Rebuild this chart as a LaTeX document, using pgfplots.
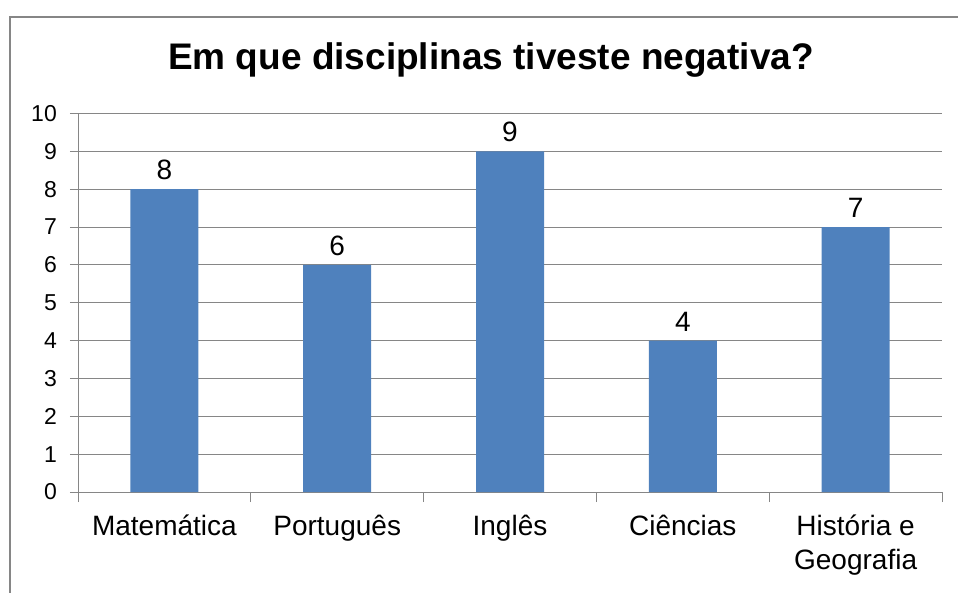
\documentclass[border=0pt]{standalone}
\usepackage{pgfplots}
\pgfplotsset{compat=1.18}
\usepackage{fontspec}
\setmainfont{Liberation Sans}
\definecolor{barblue}{RGB}{79,129,189}
\definecolor{gridgray}{RGB}{134,134,134}
\begin{document}
\begin{tikzpicture}
  \useasboundingbox (0pt,0pt) rectangle (958pt,592pt);
  % chart frame, cut off at right and bottom
  \draw[gridgray,line width=2pt] (9.5pt,-5pt) -- (9.5pt,575pt) -- (965pt,575pt);
  \node[font=\fontsize{37}{40}\selectfont\bfseries,anchor=base] at (491pt,522pt)
    {Em que disciplinas tiveste negativa?};
  \begin{axis}[
      at={(78pt,100pt)}, anchor=south west,
      scale only axis,
      width=864pt, height=378.5pt,
      ybar, bar width=68pt,
      xmin=-0.5, xmax=4.5,
      ymin=0, ymax=10,
      ytick={0,1,...,10},
      xtick={0,1,2,3,4},
      xticklabels={Matemática,Português,Inglês,Ciências,{História e\\Geografia}},
      minor xtick={-0.5,0.5,1.5,2.5,3.5,4.5},
      major x tick style={draw=none},
      minor tick length=10pt,
      major tick length=8pt,
      tick align=outside,
      axis x line*=bottom, axis y line*=left,
      axis line style={gridgray,line width=1pt,-},
      every tick/.style={gridgray,line width=1pt},
      ymajorgrids,
      major grid style={gridgray,line width=1pt},
      y tick label style={font=\fontsize{23}{26}\selectfont,inner sep=0pt,xshift=-13pt},
      x tick label style={font=\fontsize{28}{34}\selectfont,align=center,
        anchor=north,inner sep=0pt,yshift=-15pt},
      /pgf/number format/assume math mode=true,
      nodes near coords,
      every node near coord/.append style={font=\fontsize{28}{32}\selectfont,
        black,inner sep=0pt,yshift=9pt,anchor=south},
    ]
    \addplot[fill=barblue,draw=none] coordinates {
      (0,8) (1,6) (2,9) (3,4) (4,7)
    };
  \end{axis}
\end{tikzpicture}
\end{document}
